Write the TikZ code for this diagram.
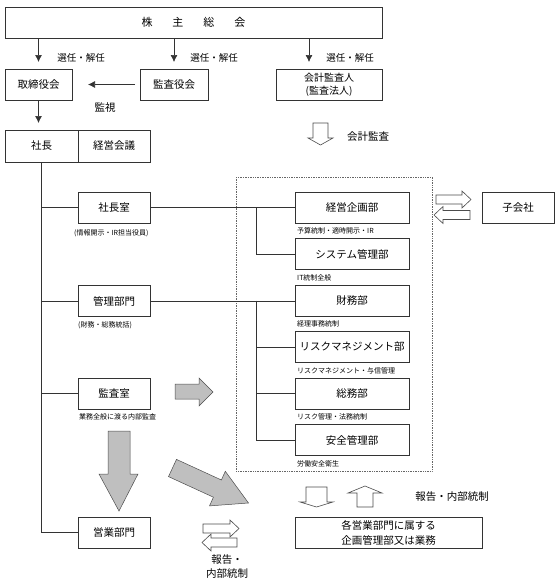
\documentclass[tikz,border=0pt]{standalone}
\usepackage{fontspec}
\setmainfont{Noto Sans CJK JP}
\usetikzlibrary{positioning, arrows.meta}
\tikzset{
x=1pt, y=-1pt, % one unit per pixel, y runs down
>={Latex[length=7pt,width=7pt]}, % filled arrow heads
box/.style={draw=black!80, line width=0.7pt, minimum width=72pt, minimum height=31pt, inner sep=0pt, outer sep=0pt, font=\fontsize{10.5}{13}\selectfont}, % plain boxes
dept/.style={box, minimum width=114pt}, % boxes inside the dotted frame
note/.style={inner sep=0pt, anchor=north west, font=\fontsize{7}{8}\selectfont}, % small texts under the boxes
lbl/.style={inner sep=0pt, font=\fontsize{10.5}{13}\selectfont}, % free labels
link/.style={draw=black!80, line width=0.7pt}, % tree lines
arr/.style={link, ->, shorten >=7pt}, % thin arrows
bigarrow/.style={fill=gray!50, draw=black!70, line width=0.5pt}, % gray block arrows
hollow/.style={fill=white, draw=black!70, line width=0.6pt}, % white block arrows
}
\begin{document}
\begin{tikzpicture}
\useasboundingbox (0,0) rectangle (560,587);

% shareholders and boards
\node[box, minimum width=377pt, font=\fontsize{11}{13}\selectfont] (soukai) at (193.5,22.5) {株\hspace{20pt}主\hspace{20pt}総\hspace{20pt}会};
\node[box, minimum width=67pt] (torishimari) at (38.5,84.5) {取締役会};
\node[box, minimum width=68pt] (kansayaku) at (174,84.5) {監査役会};
\node[box, minimum width=106pt, align=center, font=\fontsize{10}{13}\selectfont] (kaikei) at (329,84.5) {会計監査人\\(監査法人)};
\coordinate (kk) at ([xshift=-20pt]kaikei.north);

\draw[arr] (soukai.south -| torishimari) -- (torishimari.north);
\draw[arr] (soukai.south -| kansayaku) -- (kansayaku.north);
\draw[arr] (soukai.south -| kk) -- (kk);
\node[lbl, font=\fontsize{9.5}{11}\selectfont] (sennin1) at (81,58) {選任・解任};
\node[lbl, font=\fontsize{9.5}{11}\selectfont] (sennin2) at (214,58) {選任・解任};
\node[lbl, font=\fontsize{9.5}{11}\selectfont] (sennin3) at (350,58) {選任・解任};

\draw[arr, shorten <=5pt, shorten >=16pt] (kansayaku.west) -- (torishimari.east);
\node[lbl] (kanshi) at (105,108) {監視};

% president and the left column
\node[box, minimum width=73pt, minimum height=32pt] (shacho) at (41.5,146) {社長};
\node[box, minimum height=32pt, right=0pt of shacho] (kaigi) {経営会議};
\draw[arr] (torishimari.south) -- (torishimari.south |- shacho.north);

\node[box] (shitsu) at (114,207.5) {社長室};
\node[box] (kanri) at (114,301) {管理部門};
\node[box] (kansa) at (114,393.5) {監査室};
\node[box] (eigyo) at (114,532.5) {営業部門};
\node[note] (shitsu-n) at (74,229.5) {(情報開示・IR担当役員)};
\node[note] (kanri-n) at (78,321) {(財務・総務統括)};
\node[note] (kansa-n) at (79,413) {業務全般に渡る内部監査};

\draw[link] (shacho.south) |- (eigyo.west);
\foreach \n in {shitsu, kanri, kansa}
  \draw[link] (shacho.south |- \n.west) -- (\n.west);

% departments in the dotted frame
\draw[black!60, densely dotted, line width=0.7pt] (236,177) rectangle (432,471);
\node[dept] (kikaku) at (352,207.5) {経営企画部};
\node[dept, below=15.5pt of kikaku] (system) {システム管理部};
\node[dept, below=15.5pt of system] (zaimu) {財務部};
\node[dept, below=15.5pt of zaimu] (risk) {リスクマネジメント部};
\node[dept, below=15.5pt of risk] (somu) {総務部};
\node[dept, below=15.5pt of somu] (anzen) {安全管理部};
\foreach \n/\t in {kikaku/予算統制・適時開示・IR, system/IT統制全般, zaimu/経理事務統制,
    risk/リスクマネジメント・与信管理, somu/リスク管理・法務統制, anzen/労働安全衛生}
  \node[note] (\n-n) at ([xshift=2pt,yshift=-4.5pt]\n.south west) {\t};

\draw[link] (shitsu.east) -- (kikaku.west);
\coordinate (bus1) at ([xshift=-39pt]kikaku.west);
\draw[link] (bus1) |- (system.west);
\draw[link] (kanri.east) -- (kanri.east -| zaimu.west);
\coordinate (bus2) at ([xshift=-39pt]zaimu.west);
\draw[link] (bus2) |- (anzen.west);
\foreach \n in {risk, somu}
  \draw[link] (bus2 |- \n.west) -- (\n.west);

% subsidiary
\node[box] (kogaisha) at (518,207.5) {子会社};
\draw[hollow] (436,195) -- (462,195) -- (462,191) -- (471,199.5) -- (462,208) -- (462,204) -- (436,204) -- cycle;
\draw[hollow] (470,210.5) -- (443,210.5) -- (443,206.5) -- (434,215) -- (443,223.5) -- (443,219.5) -- (470,219.5) -- cycle;

% accounting audit
\draw[hollow] (313,123) -- (328,123) -- (328,138) -- (333,138) -- (320.5,145) -- (308,138) -- (313,138) -- cycle;
\node[lbl] (kaikeikansa) at (368,137) {会計監査};

% internal audit arrows
\draw[bigarrow] (175,384) -- (199,384) -- (199,378) -- (213,392) -- (199,406) -- (199,399) -- (175,399) -- cycle;
\draw[bigarrow] (108,431) -- (130,431) -- (130,474) -- (138,474) -- (119,511) -- (99,474) -- (108,474) -- cycle;
\draw[bigarrow] (176.5,459.4) -- (221.4,480) -- (225.3,471.3) -- (248.5,503) -- (209.5,505.9) -- (213.4,497.2) -- (168.5,476.6) -- cycle;

% sales side
\node[box, minimum width=187pt, align=center, font=\fontsize{10.5}{15}\selectfont] (kakueigyo) at (388.5,532.5) {各営業部門に属する\\企画管理部又は業務};
\draw[hollow] (306,487) -- (327,487) -- (327,502) -- (333,502) -- (316.5,507) -- (300,502) -- (306,502) -- cycle;
\draw[hollow] (357,507) -- (357,493) -- (348,493) -- (365,486) -- (382,493) -- (373,493) -- (373,507) -- cycle;
\node[lbl] (houkoku1) at (452,497) {報告・内部統制};

\draw[hollow] (203,524) -- (230,524) -- (230,520) -- (239,528.5) -- (230,537) -- (230,533) -- (203,533) -- cycle;
\draw[hollow] (237,538) -- (211,538) -- (211,534) -- (202,542.5) -- (211,551) -- (211,547) -- (237,547) -- cycle;
\node[lbl, align=center, font=\fontsize{10.5}{14}\selectfont] (houkoku2) at (227,567) {報告・\\内部統制};
\end{tikzpicture}
\end{document}
